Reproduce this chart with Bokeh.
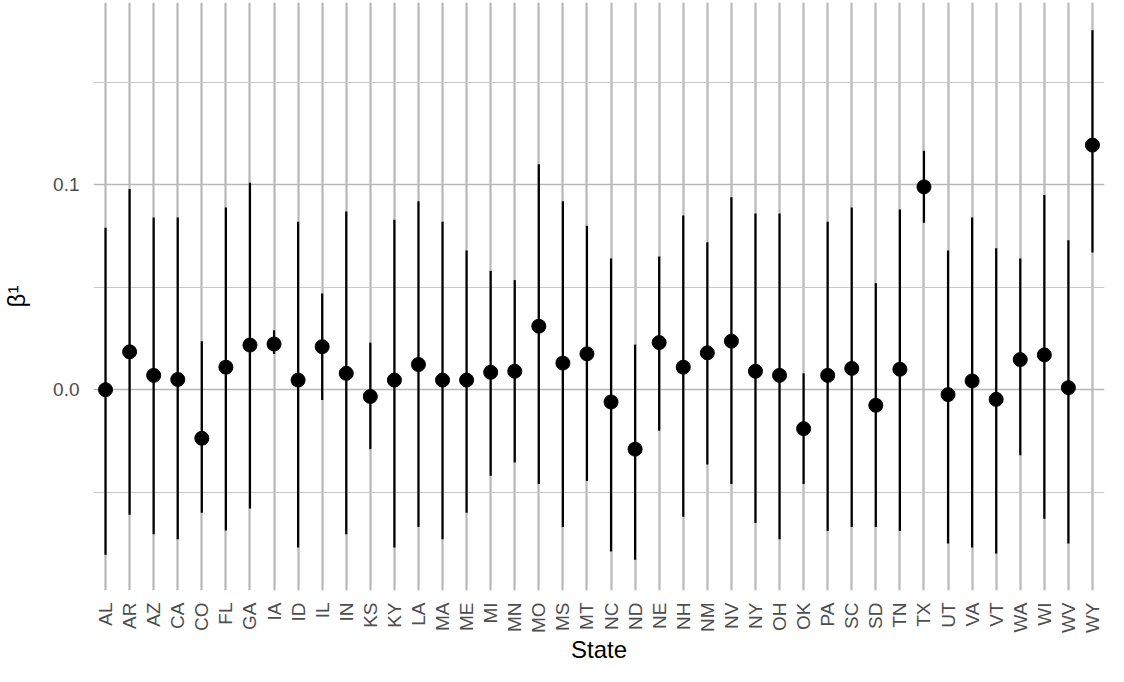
from bokeh.plotting import figure
from bokeh.models import ColumnDataSource, FixedTicker, Range1d
from bokeh.embed import file_html
from bokeh.resources import INLINE
from math import pi

states = ["AL", "AR", "AZ", "CA", "CO", "FL", "GA", "IA", "ID", "IL", "IN", "KS", "KY", "LA",
          "MA", "ME", "MI", "MN", "MO", "MS", "MT", "NC", "ND", "NE", "NH", "NM", "NV", "NY",
          "OH", "OK", "PA", "SC", "SD", "TN", "TX", "UT", "VA", "VT", "WA", "WI", "WV", "WY"]
estimate = [0.0, 0.0185, 0.007, 0.005, -0.0237, 0.011, 0.0218, 0.0223, 0.0047, 0.021, 0.008,
            -0.0033, 0.0047, 0.0123, 0.0047, 0.0047, 0.0085, 0.009, 0.031, 0.013, 0.0175,
            -0.006, -0.029, 0.023, 0.011, 0.018, 0.0237, 0.009, 0.007, -0.019, 0.007, 0.0104,
            -0.0076, 0.010, 0.099, -0.0024, 0.0043, -0.0047, 0.0147, 0.017, 0.001, 0.1194]
lower = [-0.0806, -0.061, -0.0706, -0.073, -0.060, -0.0687, -0.058, 0.0175, -0.077, -0.005,
         -0.0706, -0.029, -0.077, -0.067, -0.073, -0.060, -0.042, -0.0355, -0.046, -0.067,
         -0.0445, -0.079, -0.083, -0.020, -0.062, -0.0365, -0.046, -0.065, -0.073, -0.046,
         -0.069, -0.067, -0.067, -0.069, 0.0815, -0.075, -0.077, -0.080, -0.032, -0.063,
         -0.075, 0.067]
upper = [0.079, 0.098, 0.084, 0.084, 0.0237, 0.089, 0.101, 0.029, 0.082, 0.047, 0.087, 0.023,
         0.083, 0.092, 0.082, 0.068, 0.058, 0.0535, 0.110, 0.092, 0.080, 0.064, 0.022, 0.065,
         0.085, 0.072, 0.094, 0.086, 0.086, 0.008, 0.082, 0.089, 0.052, 0.088, 0.1166, 0.068,
         0.084, 0.069, 0.064, 0.095, 0.073, 0.1754]

source = ColumnDataSource(data=dict(state=states, est=estimate, lo=lower, hi=upper))

p = figure(width=1108, height=666, x_range=states, y_range=Range1d(-0.098, 0.189),
           output_backend="svg", toolbar_location=None, min_border_left=14,
           min_border_top=2, min_border_right=4, min_border_bottom=2)
p.outline_line_color = None
p.background_fill_color = "white"

p.segment(x0="state", y0="lo", x1="state", y1="hi", source=source, line_color="black", line_width=2.2)
p.scatter(x="state", y="est", source=source, size=14, color="black")

p.yaxis.ticker = FixedTicker(ticks=[0.0, 0.1], minor_ticks=[-0.05, 0.05, 0.15])
p.yaxis.major_label_overrides = {0.0: "0.0", 0.1: "0.1"}
p.ygrid.grid_line_color = "#b8b8b8"
p.ygrid.grid_line_width = 1.6
p.ygrid.minor_grid_line_color = "#c8c8c8"
p.ygrid.minor_grid_line_width = 1.0
p.xgrid.grid_line_color = "#b8b8b8"
p.xgrid.grid_line_width = 2.2

for ax in (p.xaxis, p.yaxis):
    ax.axis_line_color = None
    ax.major_tick_line_color = None
    ax.minor_tick_line_color = None
    ax.major_label_text_color = "#4d4d4d"
    ax.major_label_text_font = "Liberation Sans"
    ax.major_label_text_font_size = "19px"
    ax.axis_label_text_font = "Liberation Sans"
    ax.axis_label_text_font_style = "normal"
    ax.axis_label_text_font_size = "24px"
    ax.axis_label_text_color = "black"

p.xaxis.major_label_orientation = pi / 2
p.xaxis.major_label_standoff = 6
p.xaxis.axis_label = "State"
p.xaxis.axis_label_standoff = 0
p.yaxis.axis_label = "β¹"
p.yaxis.axis_label_standoff = 20
p.yaxis.major_label_standoff = 8

open("out.html", "w").write(file_html(p, INLINE))
